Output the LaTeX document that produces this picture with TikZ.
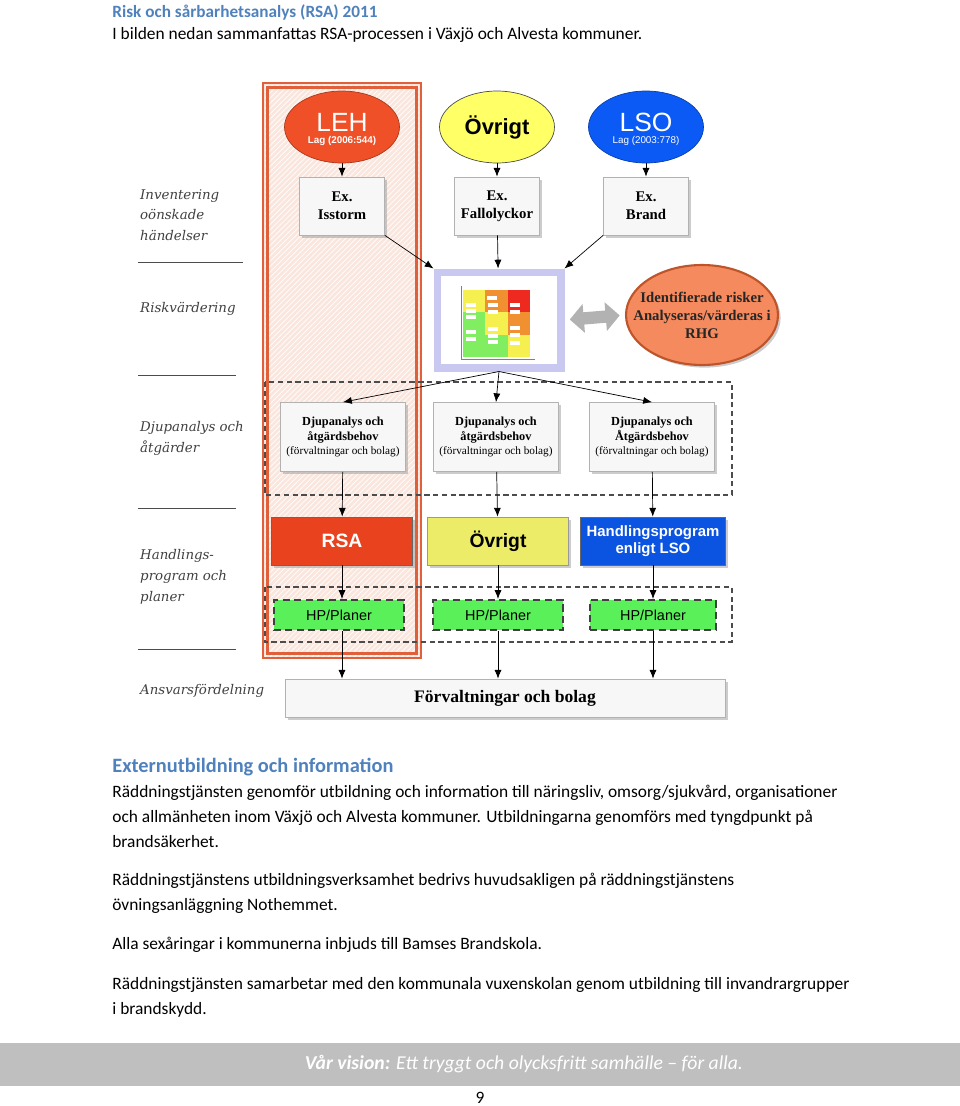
\documentclass[tikz,border=0pt]{standalone}
\usepackage{fontspec}
\setmainfont{Carlito}
\newfontfamily\arialf{Liberation Sans}
\newfontfamily\timesf{Liberation Serif}
\newfontfamily\stegf{DejaVu Serif}
\usetikzlibrary{arrows.meta,shapes,positioning,calc,shadows,patterns}
\usepackage{xcolor}
\definecolor{rubrik}{RGB}{79,129,189}
\definecolor{lehrod}{RGB}{240,80,40}
\definecolor{rsarod}{RGB}{232,67,30}
\definecolor{gulell}{RGB}{255,255,102}
\definecolor{gulbox}{RGB}{236,236,104}
\definecolor{lsobla}{RGB}{12,90,245}
\definecolor{hpgron}{RGB}{90,240,90}
\definecolor{laxrosa}{RGB}{244,138,94}
\definecolor{laxkant}{RGB}{224,100,50}
\definecolor{lavendel}{RGB}{200,200,240}
\definecolor{kolumn}{RGB}{251,230,222}
\definecolor{kolkant}{RGB}{224,96,60}
\definecolor{sidfot}{RGB}{191,191,191}
\definecolor{mgul}{RGB}{245,240,80}
\definecolor{morange}{RGB}{240,144,48}
\definecolor{mrod}{RGB}{238,42,32}
\definecolor{mgron}{RGB}{128,238,96}

\tikzset{
  pil/.style={-{Latex[length=5pt,width=4pt]}, thin, black},
  skugga/.style={drop shadow={shadow xshift=1.5pt, shadow yshift=-1.5pt, fill=black!40}},
  lagell/.style={ellipse, inner sep=0, minimum width=2.3cm, minimum height=1.44cm, align=center, font=\arialf},
  lagtext/.style={inner sep=0, text=white, font=\arialf},
  exbox/.style={draw=gray!60, fill=white!94!gray, skugga, minimum width=1.7cm, minimum height=1.16cm,
    align=center, font=\timesf\bfseries\fontsize{8.4}{10.4}\selectfont},
  djupbox/.style={draw=gray!60, fill=white!94!gray, skugga, minimum width=2.5cm, minimum height=1.38cm,
    align=center, font=\timesf\fontsize{6.4}{8.2}\selectfont},
  progbox/.style={draw=black!60, skugga, minimum width=2.82cm, minimum height=0.96cm, align=center,
    font=\arialf\bfseries},
  hpbox/.style={draw=black!75, fill=hpgron, dashed, dash pattern=on 4pt off 2.5pt, line width=1.2pt,
    minimum width=2.6cm, minimum height=0.6cm, font=\arialf\fontsize{8.2}{9}\selectfont},
  steg/.style={anchor=north west, align=left, text=black!75, font=\stegf\itshape\fontsize{7.6}{11.9}\selectfont},
  brodtext/.style={anchor=west, inner sep=0, font=\fontsize{9.9}{11}\selectfont},
  zon/.style={draw=black!70, dashed, dash pattern=on 3pt off 2pt, line width=0.6pt}
}

\begin{document}
\begin{tikzpicture}[x=0.02cm, y=-0.02cm]
  \useasboundingbox (0,0) rectangle (960,1106);

  % rubrik
  \node[brodtext, text=rubrik, font=\bfseries\fontsize{9.8}{11}\selectfont] (titel) at (112,12) {Risk och sårbarhetsanalys (RSA) 2011};
  \node[brodtext] (intro) at (112,35) {I bilden nedan sammanfattas RSA-processen i Växjö och Alvesta kommuner.};

  % RSA-kolumnen
  \fill[kolumn] (263,83) rectangle (421,658);
  \fill[pattern=north east lines, pattern color=white] (265,85) rectangle (419,656);
  \draw[kolkant, line width=0.6pt] (263,83) rectangle (421,658);
  \draw[kolkant, line width=1.4pt] (267.5,87.5) rectangle (416.5,653.5);

  % streckade zoner
  \draw[zon] (265,382) rectangle (732,495);
  \draw[zon] (265,587) rectangle (732,642);

  % stegen till vänster
  \node[steg] (inv) at (134,183) {Inventering\\oönskade\\händelser};
  \node[steg] (risk) at (134,296) {Riskvärdering};
  \node[steg] (djup) at (134,415) {Djupanalys och\\åtgärder};
  \node[steg] (hand) at (134,543) {Handlings-\\program och\\planer};
  \node[steg] (ansv) at (134,678) {Ansvarsfördelning};
  \draw[black!70, thin] (138,262) -- (243,262);
  \draw[black!70, thin] (138,375) -- (236,375);
  \draw[black!70, thin] (138,508) -- (236,508);
  \draw[black!70, thin] (138,649) -- (236,649);

  % lagar
  \node[lagell, draw=lehrod!70!black, fill=lehrod] (leh) at (342,127) {};
  \node[lagtext, font=\arialf\fontsize{15}{15}\selectfont] (lehnamn) at (342,122) {LEH};
  \node[lagtext, font=\arialf\bfseries\fontsize{5.6}{6}\selectfont] (lehlag) at (342,141) {Lag (2006:544)};
  \node[lagell, draw=black!70, fill=gulell, font=\arialf\bfseries\fontsize{12.5}{13}\selectfont] (ovr) at (497,127) {Övrigt};
  \node[lagell, draw=lsobla!70!black, fill=lsobla] (lso) at (646,127) {};
  \node[lagtext, font=\arialf\fontsize{15}{15}\selectfont] (lsonamn) at (646,122) {LSO};
  \node[lagtext, font=\arialf\fontsize{5.6}{6}\selectfont] (lsolag) at (646,141) {Lag (2003:778)};

  % exempel
  \node[exbox] (isstorm) at (342,206) {Ex.\\Isstorm};
  \node[exbox] (fall) at (497,206) {Ex.\\Fallolyckor};
  \node[exbox] (brand) at (646,206) {Ex.\\Brand};
  \draw[pil] (leh) -- (isstorm);
  \draw[pil] (ovr) -- (fall);
  \draw[pil] (lso) -- (brand);

  % riskmatris
  \node[draw=lavendel, line width=4pt, fill=white, minimum width=2.48cm, minimum height=1.92cm] (mtx) at (499,320) {};
  \foreach \r/\c/\col in {0/0/mgul,0/1/morange,0/2/mrod,1/0/mgron,1/1/mgul,1/2/morange,2/0/mgron,2/1/mgron,2/2/mgul}
    \fill[\col] ({463+22.3*\c},{290+22.3*\r}) rectangle ++(22.3,22.3);
  \foreach \tx/\ty in {487/296,466/303,466/309,466/315,488/303,488/310,510/303,510/310,466/330,466/337,488/327,488/334,488/340,510/326,510/333,510/341}
    \fill[white] (\tx,\ty) rectangle ++(10,3.5);
  \draw[black!50, very thin] (461,286) -- (461,359) -- (535,359);
  \draw[pil] (isstorm.south east) -- (mtx.north west);
  \draw[pil] (fall) -- (mtx);
  \draw[pil] (brand.south west) -- (mtx.north east);

  % RHG
  \node[ellipse, draw=laxkant!85!black, line width=1.2pt, fill=laxrosa, skugga, minimum width=3.04cm, minimum height=2cm,
    inner xsep=-8.5pt, inner ysep=0pt, align=center, text=black!85, font=\timesf\bfseries\fontsize{8.4}{10.2}\selectfont] (ident) at (702,315)
    {Identifierade risker\\Analyseras/värderas i\\RHG};
  \draw[{Triangle[length=8pt,width=16pt]}-{Triangle[length=8pt,width=16pt]}, line width=7pt, gray!60,
    shorten <=3pt, shorten >=3pt] (mtx.east) -- (ident.west);

  % djupanalys
  \node[djupbox] (djup1) at (343,437) {\textbf{\fontsize{7}{8.2}\selectfont Djupanalys och}\\\textbf{\fontsize{7}{8.2}\selectfont åtgärdsbehov}\\(förvaltningar och bolag)};
  \node[djupbox] (djup2) at (496,437) {\textbf{\fontsize{7}{8.2}\selectfont Djupanalys och}\\\textbf{\fontsize{7}{8.2}\selectfont åtgärdsbehov}\\(förvaltningar och bolag)};
  \node[djupbox] (djup3) at (652,437) {\textbf{\fontsize{7}{8.2}\selectfont Djupanalys och}\\\textbf{\fontsize{7}{8.2}\selectfont Åtgärdsbehov}\\(förvaltningar och bolag)};
  \draw[pil] (mtx.south) -- (djup1.north);
  \draw[pil] (mtx.south) -- (djup2.north);
  \draw[pil] (mtx.south) -- (djup3.north);

  % program
  \node[progbox, fill=rsarod, text=white, font=\arialf\bfseries\fontsize{11}{12}\selectfont] (rsa) at (342,541) {RSA};
  \node[progbox, fill=gulbox, draw=black!40, font=\arialf\bfseries\fontsize{11}{12}\selectfont] (ovr2) at (498,541) {Övrigt};
  \node[progbox, fill=lsobla!92!black, text=white, font=\arialf\bfseries\fontsize{8.5}{9.8}\selectfont] (hprog) at (653,541)
    {Handlingsprogram\\enligt LSO};
  \draw[pil] (djup1) -- (rsa);
  \draw[pil] (djup2) -- (ovr2);
  \draw[pil] (djup3) -- (hprog);

  % HP/Planer
  \node[hpbox] (hp1) at (339,615) {HP/Planer};
  \node[hpbox] (hp2) at (498,615) {HP/Planer};
  \node[hpbox, minimum width=2.52cm] (hp3) at (653,615) {HP/Planer};
  \draw[pil] (rsa) -- (rsa |- hp1.north);
  \draw[pil] (ovr2) -- (hp2);
  \draw[pil] (hprog) -- (hp3);

  % förvaltningar
  \node[draw=gray!60, fill=white!94!gray, skugga, minimum width=8.8cm, minimum height=0.76cm,
    font=\timesf\bfseries\fontsize{10}{12}\selectfont] (forv) at (505,698) {Förvaltningar och bolag};
  \draw[pil] (rsa.south |- hp1.south) -- (rsa.south |- forv.north);
  \draw[pil] (hp2.south) -- (hp2.south |- forv.north);
  \draw[pil] (hp3.south) -- (hp3.south |- forv.north);

  % externutbildning
  \node[brodtext, text=rubrik, font=\bfseries\fontsize{11.6}{13}\selectfont] (extern) at (112,767) {Externutbildning och information};
  \node[brodtext] (rad1) at (112,793) {Räddningstjänsten genomför utbildning och information till näringsliv, omsorg/sjukvård, organisationer};
  \node[brodtext] (rad2) at (112,818) {och allmänheten inom Växjö och Alvesta kommuner. Utbildningarna genomförs med tyngdpunkt på};
  \node[brodtext] (rad3) at (112,842) {brandsäkerhet.};
  \node[brodtext] (rad4) at (112,881) {Räddningstjänstens utbildningsverksamhet bedrivs huvudsakligen på räddningstjänstens};
  \node[brodtext] (rad5) at (112,906) {övningsanläggning Nothemmet.};
  \node[brodtext] (rad6) at (112,945) {Alla sexåringar i kommunerna inbjuds till Bamses Brandskola.};
  \node[brodtext] (rad7) at (112,985) {Räddningstjänsten samarbetar med den kommunala vuxenskolan genom utbildning till invandrargrupper};
  \node[brodtext] (rad8) at (112,1010) {i brandskydd.};

  % sidfot
  \fill[sidfot] (0,1043) rectangle (960,1086);
  \node[text=white, font=\itshape\fontsize{11.2}{13}\selectfont] (vision) at (524,1064)
    {\textbf{Vår vision:} Ett tryggt och olycksfritt samhälle – för alla.};
  \node[font=\fontsize{9.9}{11}\selectfont] (sida) at (480,1098) {9};
\end{tikzpicture}
\end{document}
